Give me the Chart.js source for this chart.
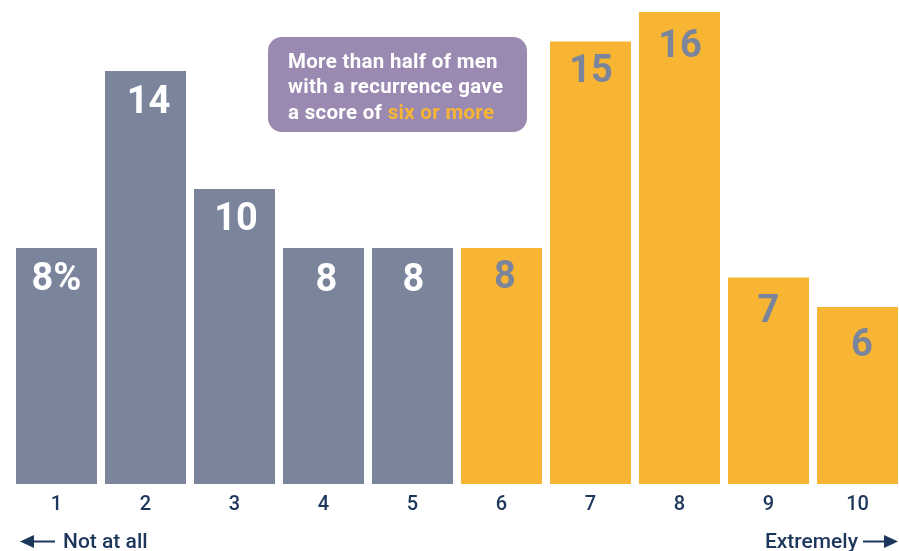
<!DOCTYPE html>
<html>
<head>
<meta charset="utf-8">
<style>
  html, body { margin: 0; padding: 0; background: #ffffff; overflow: hidden; }
  #wrap { width: 905px; height: 551px; }
</style>
<script src="https://cdn.jsdelivr.net/npm/chart.js@4/dist/chart.umd.min.js"></script>
</head>
<body>
<div id="wrap"><canvas id="chart" width="905" height="551"></canvas></div>
<script>
// Score given (1 = not at all ... 10 = extremely), share of men with a recurrence
const scores = ['1', '2', '3', '4', '5', '6', '7', '8', '9', '10'];
const shares = [8, 14, 10, 8, 8, 8, 15, 16, 7, 6];
const valueLabels = ['8%', '14', '10', '8', '8', '8', '15', '16', '7', '6'];
const calloutLines = [
  [{ t: 'More than half of men', hi: false }],
  [{ t: 'with a recurrence gave', hi: false }],
  [{ t: 'a score of ', hi: false }, { t: 'six or more', hi: true }]
];
const endLabels = ['Not at all', 'Extremely'];

// hand-set nudges for the in-bar labels (px from the bar top / centre)
const labelDx = [0, 3, 1.5, 3, 1, 3.5, 0.5, 0.5, 0, 4.5];
const labelDy = [32.5, 32, 31.5, 33, 33, 30.5, 30.5, 35, 34.5, 39.5];

const GREY = '#7a849b';
const GOLD = '#f8b533';
const NAVY = '#1d365c';
const PURPLE = '#9a89b0';

const barColors = shares.map((v, i) => (i < 5 ? GREY : GOLD));
const labelColors = shares.map((v, i) => (i < 5 ? '#ffffff' : GREY));

const annotations = {
  id: 'annotations',
  afterDatasetsDraw(chart) {
    const ctx = chart.ctx;
    const meta = chart.getDatasetMeta(0);
    ctx.save();
    // values inside the bars
    ctx.font = 'bold 38px Roboto, "DejaVu Sans", sans-serif';
    ctx.textAlign = 'center';
    ctx.textBaseline = 'middle';
    meta.data.forEach((bar, i) => {
      ctx.fillStyle = labelColors[i];
      ctx.fillText(valueLabels[i], bar.x + labelDx[i], bar.y + labelDy[i]);
    });

    // callout box
    const bx = 268, by = 37, bw = 259, bh = 95, r = 14;
    ctx.fillStyle = PURPLE;
    ctx.beginPath();
    ctx.roundRect(bx, by, bw, bh, r);
    ctx.fill();
    ctx.font = 'bold 20.5px Roboto, "DejaVu Sans", sans-serif';
    if ('letterSpacing' in ctx) ctx.letterSpacing = '0.3px';
    ctx.textAlign = 'left';
    ctx.textBaseline = 'alphabetic';
    calloutLines.forEach((parts, li) => {
      let x = 288;
      const y = 67.5 + li * 25.5;
      parts.forEach(p => {
        ctx.fillStyle = p.hi ? GOLD : '#ffffff';
        ctx.fillText(p.t, x, y);
        x += ctx.measureText(p.t).width;
      });
    });
    if ('letterSpacing' in ctx) ctx.letterSpacing = '0px';

    // scale end labels with arrows
    ctx.fillStyle = NAVY;
    ctx.strokeStyle = NAVY;
    ctx.lineWidth = 2;
    ctx.font = '500 21px Roboto, "DejaVu Sans", sans-serif';
    ctx.textBaseline = 'alphabetic';
    ctx.textAlign = 'left';
    ctx.fillText(endLabels[0], 63, 548);
    ctx.textAlign = 'right';
    ctx.fillText(endLabels[1], 858, 548);

    const ay = 541.5;
    // left arrow
    ctx.beginPath();
    ctx.moveTo(31, ay); ctx.lineTo(55, ay); ctx.stroke();
    ctx.beginPath();
    ctx.moveTo(20, ay); ctx.lineTo(34, ay - 6.5); ctx.lineTo(34, ay + 6.5); ctx.closePath(); ctx.fill();
    // right arrow
    ctx.beginPath();
    ctx.moveTo(863, ay); ctx.lineTo(888, ay); ctx.stroke();
    ctx.beginPath();
    ctx.moveTo(898, ay); ctx.lineTo(884, ay - 6.5); ctx.lineTo(884, ay + 6.5); ctx.closePath(); ctx.fill();
    ctx.restore();
  }
};

new Chart(document.getElementById('chart'), {
  type: 'bar',
  data: {
    labels: scores,
    datasets: [{
      data: shares,
      backgroundColor: barColors,
      borderWidth: 0,
      barPercentage: 0.91,
      categoryPercentage: 1.0
    }]
  },
  options: {
    responsive: false,
    animation: false,
    events: [],
    layout: { padding: { left: 12, right: 3, top: 12, bottom: 25 } },
    plugins: { legend: { display: false }, tooltip: { enabled: false } },
    scales: {
      x: {
        grid: { display: false, drawTicks: false },
        border: { display: false },
        ticks: {
          padding: 9,
          color: NAVY,
          font: { family: 'Roboto, "DejaVu Sans", sans-serif', size: 20, weight: '500' }
        }
      },
      y: {
        display: false,
        min: 0,
        max: 16
      }
    }
  },
  plugins: [annotations]
});
</script>
</body>
</html>
